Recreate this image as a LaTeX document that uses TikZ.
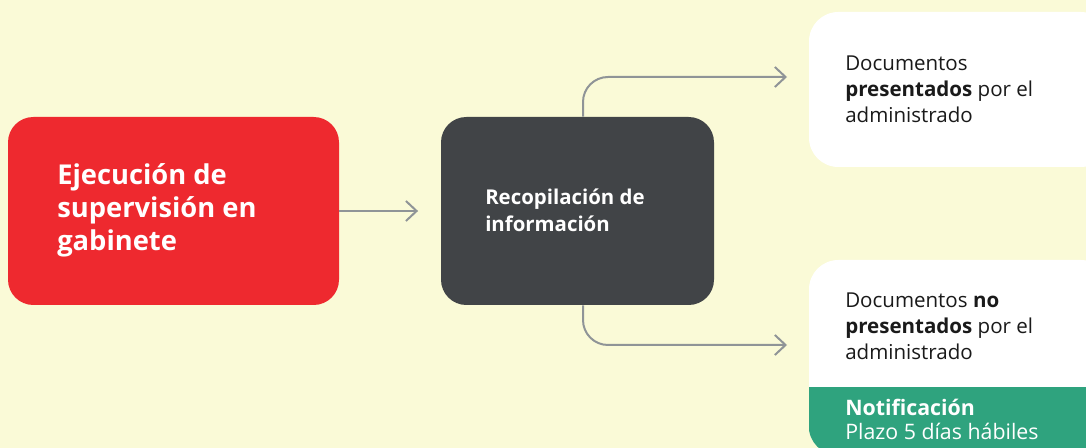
\documentclass[tikz,border=0pt]{standalone}
\usepackage{fontspec}
\setmainfont{Open Sans}
\usepackage{tikz}
\usetikzlibrary{arrows.meta}
\definecolor{fondo}{HTML}{FAFAD7}
\definecolor{rojo}{HTML}{EE292F}
\definecolor{oscuro}{HTML}{414447}
\definecolor{verde}{HTML}{2FA37E}
\definecolor{gris}{HTML}{8F9497}
\definecolor{tinta}{HTML}{1A1A1A}
\tikzstyle{caja}=[rectangle, rounded corners=19pt, inner sep=0pt, draw=none]
\tikzstyle{texto}=[anchor=west, align=left, inner sep=0pt]
\tikzstyle{flecha}=[draw=gris, line width=1.5pt, -{Straight Barb[length=8pt,width=15pt]}]

\begin{document}
\begin{tikzpicture}[x=0.75pt, y=-0.75pt]
    \useasboundingbox (0,0) rectangle (1086,448);
    \clip (0,0) rectangle (1086,448);
    \fill[fondo] (0,0) rectangle (1086,448);

    \node[caja, fill=rojo, minimum width=248.25pt, minimum height=141pt] (ejec) at (173.5,211) {};
    \node[texto, text=white, font=\bfseries\fontsize{20.5}{24.75}\selectfont] (ejectxt) at (57,210)
      {Ejecución de\\supervisión en\\gabinete};

    \node[caja, fill=oscuro, minimum width=204.75pt, minimum height=141pt] (recop) at (577.5,211) {};
    \node[texto, text=white, font=\bfseries\fontsize{15.3}{20.25}\selectfont] (recoptxt) at (485,210)
      {Recopilación de\\información};

    \node[caja, rounded corners=22pt, fill=white, minimum width=225.75pt, minimum height=116.25pt] (docsi) at (959.5,89.5) {};
    \node[texto, text=tinta, font=\fontsize{15.4}{19.5}\selectfont] (docsitxt) at (845,89)
      {Documentos\\\textbf{presentados} por el\\administrado};

    \node[caja, rounded corners=22pt, fill=white, minimum width=225.75pt, minimum height=146.25pt] (docno) at (959.5,357.5) {};
    \begin{scope}
      \clip[rounded corners=22pt] (docno.north west) rectangle (docno.south east);
      \fill[verde] (docno.west |- 0,387) rectangle (docno.south east);
    \end{scope}
    \node[texto, text=tinta, font=\fontsize{15.4}{19.5}\selectfont] (docnotxt) at (845,326)
      {Documentos \textbf{no}\\\textbf{presentados} por el\\administrado};
    \node[texto, text=white, font=\fontsize{16}{18}\selectfont] (notif) at (845,419)
      {\textbf{Notificación}\\Plazo 5 días hábiles};

    % conectores
    \coordinate (finsi) at (787,77);
    \coordinate (finno) at (787,345);
    \draw[flecha, shorten >=17pt] (ejec.east) -- (recop.west);
    \draw[flecha, rounded corners=18.75pt] (recop.north -| 583,0) |- (finsi);
    \draw[flecha, rounded corners=18.75pt] (recop.south -| 583,0) |- (finno);

  \end{tikzpicture}
\end{document}
